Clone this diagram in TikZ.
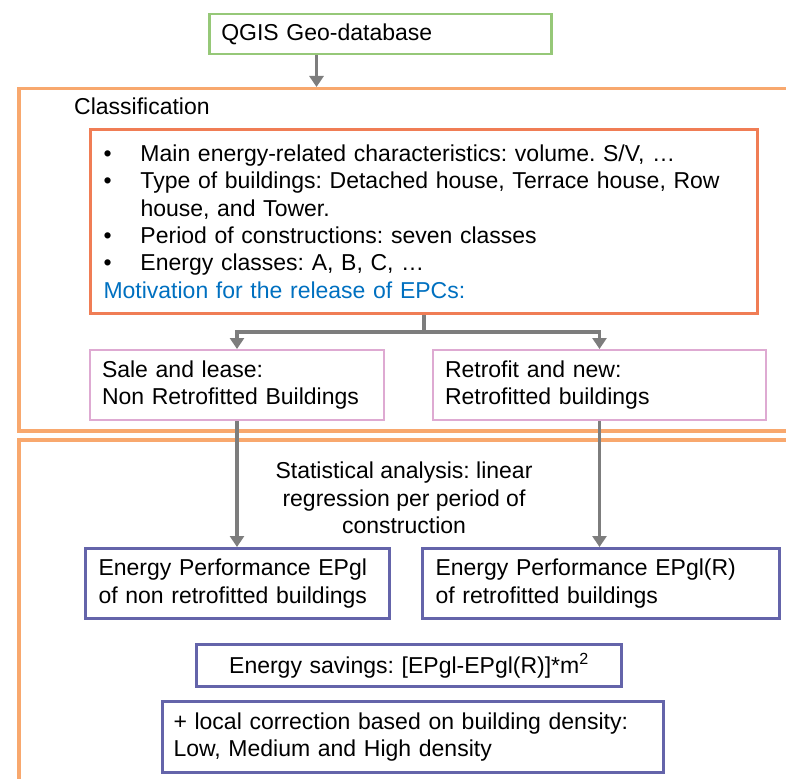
\documentclass[tikz,border=0pt]{standalone}
\usepackage{fontspec}
\setmainfont{Liberation Sans}
\usetikzlibrary{arrows.meta,calc}
\definecolor{geogreen}{RGB}{150,200,120}
\definecolor{frameorange}{RGB}{248,168,110}
\definecolor{classorange}{RGB}{240,125,85}
\definecolor{casepink}{RGB}{222,170,210}
\definecolor{perfblue}{RGB}{100,100,170}
\definecolor{flowgray}{RGB}{125,125,125}
\definecolor{motivblue}{RGB}{0,112,192}
\frenchspacing
\begin{document}
\begin{tikzpicture}[
  x=1pt, y=-1pt,
  font=\fontsize{23}{27.4}\selectfont,
  box/.style={draw, anchor=north west, align=left, inner ysep=0pt},
  geobox/.style={box, draw=geogreen, line width=2.5pt, inner xsep=12pt},
  frame/.style={draw=frameorange, line width=3.5pt, anchor=north west, inner sep=0pt},
  classbox/.style={box, draw=classorange, line width=3pt, inner xsep=13pt},
  casebox/.style={box, draw=casepink, line width=2pt, inner xsep=12pt},
  perfbox/.style={box, draw=perfblue, line width=3pt, inner xsep=13pt},
  flowline/.style={draw=flowgray, line width=3.5pt},
  flow/.style={flowline, -{Triangle[width=14pt,length=11pt]}}
]
\useasboundingbox (0,0) rectangle (786,778);
\clip (0,0) rectangle (786,778);

\node (classframe) [frame, minimum width=773pt, minimum height=342pt] at (17,87) {};
\node (evalframe) [frame, minimum width=773pt, minimum height=400pt] at (17,438) {};

\node (geo) [geobox, text width=318pt, minimum height=40pt] at (208,13) {QGIS Geo-database};
\node (classlabel) [anchor=base west, inner sep=0pt] at (74,115) {Classification};
\node (classbox) [classbox, text width=641pt, minimum height=184pt] at (89,128) {%
\makebox[37pt][l]{\textbullet}Main energy-related characteristics: volume. S/V, \dots\\
\makebox[37pt][l]{\textbullet}Type of buildings: Detached house, Terrace house, Row\\
\hspace*{37pt}house, and Tower.\\
\makebox[37pt][l]{\textbullet}Period of constructions: seven classes\\
\makebox[37pt][l]{\textbullet}Energy classes: A, B, C, \dots\\
\textcolor{motivblue}{Motivation for the release of EPCs:}};

\node (sale) [casebox, text width=270pt, minimum height=70pt] at (89,349) {Sale and lease:\\Non Retrofitted Buildings};
\node (retro) [casebox, text width=309pt, minimum height=70pt] at (432,349) {Retrofit and new:\\Retrofitted buildings};

\node (statnote) [align=center] at (404,498) {Statistical analysis: linear\\regression per period of\\construction};

\node (perfnon) [perfbox, text width=278pt, minimum height=70pt] at (84,547) {Energy Performance EPgl\\of non retrofitted buildings};
\node (perfret) [perfbox, text width=331pt, minimum height=70pt] at (421,547) {Energy Performance EPgl(R)\\of retrofitted buildings};
\node (savings) [perfbox, align=center, text width=399pt, minimum height=42pt] at (195,643) {Energy savings: [EPgl-EPgl(R)]*m\textsuperscript{2}};
\node (density) [perfbox, inner xsep=11pt, text width=479pt, minimum height=71pt] at (161,700) {+ local correction based on building density:\\Low, Medium and High density};

\coordinate (geodrop) at ($(geo.south west)!0.315!(geo.south east)$);
\coordinate (split) at ($(classbox.south)!0.5!(classbox.south |- sale.north)$);
\draw [flow] (geodrop) -- (geodrop |- classframe.north);
\draw [flowline] (classbox.south) -- (split);
\draw [flow] (split) -| (sale.north);
\draw [flow] (split) -| (retro.north);
\draw [flow] (sale.south) -- (sale.south |- perfnon.north);
\draw [flow] (retro.south) -- (retro.south |- perfret.north);
\end{tikzpicture}
\end{document}
